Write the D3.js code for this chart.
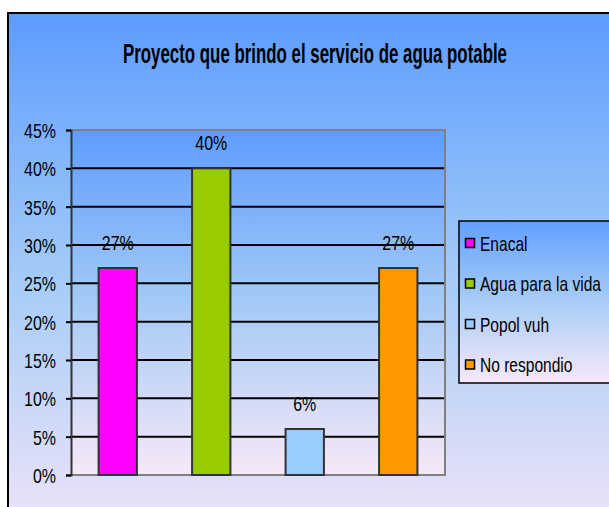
<!DOCTYPE html>
<html>
<head>
<meta charset="utf-8">
<script src="https://cdn.jsdelivr.net/npm/d3@7"></script>
<style>
  body { margin: 0; background: #fff; }
  text { font-family: "Liberation Sans", Arial, sans-serif; fill: #000; }
</style>
</head>
<body>
<div class="canvas"></div>
<script>
// data
var categories = ["Enacal", "Agua para la vida", "Popol vuh", "No respondio"];
var values = [0.27, 0.40, 0.06, 0.27];
var colors = ["#FF00FF", "#99CC00", "#99CCFF", "#FF9900"];
var tickValues = [0, 0.05, 0.10, 0.15, 0.20, 0.25, 0.30, 0.35, 0.40, 0.45];
var title = "Proyecto que brindo el servicio de agua potable";

var W = 609, H = 507;
var svg = d3.select(".canvas").append("svg")
  .attr("width", W)
  .attr("height", H);

var defs = svg.append("defs");

function grad(id, stops) {
  var g = defs.append("linearGradient")
    .attr("id", id)
    .attr("x1", 0).attr("y1", 0)
    .attr("x2", 0).attr("y2", 1);
  stops.forEach(function(s){
    g.append("stop").attr("offset", s[0]).attr("stop-color", s[1]);
  });
}
grad("bgGrad", [[0, "#5C9CFF"], [0.5, "#A6CCF7"], [1, "#F6E6F8"]]);
grad("plotGrad", [[0, "#5E9CFF"], [0.5, "#A4CAF6"], [1, "#F7E8F8"]]);
grad("legGrad", [[0, "#62A0FF"], [0.5, "#A8CDF7"], [1, "#F7E8F8"]]);

// squeeze text horizontally (the original font is a narrow one)
function narrow(sel, k) {
  sel.each(function(){
    var len = this.getComputedTextLength();
    d3.select(this)
      .attr("textLength", len * (k || 0.76))
      .attr("lengthAdjust", "spacingAndGlyphs");
  });
}

// CHART BACKGROUND

svg.append("rect")
  .attr("x", 8)
  .attr("y", 13)
  .attr("width", 640)
  .attr("height", 540)
  .attr("fill", "url(#bgGrad)")
  .attr("stroke", "#000")
  .attr("stroke-width", 2);

// TITLE

svg.append("text")
  .attr("x", 315)
  .attr("y", 63)
  .attr("text-anchor", "middle")
  .style("font-size", "27px")
  .style("font-weight", "bold")
  .attr("textLength", 384)
  .attr("lengthAdjust", "spacingAndGlyphs")
  .text(title);

// PLOT AREA

var plotL = 71, plotR = 445, plotT = 130, plotB = 475;

var y = d3.scaleLinear()
  .domain([0, 0.45])
  .range([plotB, plotT]);

var x = d3.scaleBand()
  .domain(categories)
  .range([plotL, plotR])
  .paddingInner(0.59)
  .paddingOuter(0.295);

svg.append("rect")
  .attr("x", plotL)
  .attr("y", plotT)
  .attr("width", plotR - plotL)
  .attr("height", plotB - plotT)
  .attr("fill", "url(#plotGrad)");

// gridlines
svg.append("g")
  .selectAll("line")
  .data(tickValues.filter(function(t){ return t > 0 && t < 0.45; }))
  .enter()
  .append("line")
  .attr("x1", plotL)
  .attr("x2", plotR)
  .attr("y1", function(d){ return y(d); })
  .attr("y2", function(d){ return y(d); })
  .attr("stroke", "#000")
  .attr("stroke-width", 2);

// plot border top / right / bottom (grey)
svg.append("path")
  .attr("d", "M" + plotL + "," + plotT + "H" + plotR + "V" + plotB + "H" + plotL)
  .attr("fill", "none")
  .attr("stroke", "#808080")
  .attr("stroke-width", 2);

// y axis
var yAxis = d3.axisLeft(y)
  .tickValues(tickValues)
  .tickSize(5)
  .tickPadding(10)
  .tickFormat(d3.format(".0%"));

var ga = svg.append("g")
  .attr("transform", "translate(" + plotL + ",0)")
  .call(yAxis);

ga.select(".domain").attr("stroke", "#333").attr("stroke-width", 2);
ga.selectAll(".tick line").attr("stroke", "#000").attr("stroke-width", 2);
ga.selectAll(".tick text")
  .style("font-size", "21px")
  .attr("fill", "#000")
  .attr("dy", "0.36em");
ga.attr("font-family", null).attr("font-size", null);
narrow(ga.selectAll(".tick text"));

// BARS

svg.append("g")
  .selectAll("rect")
  .data(values)
  .enter()
  .append("rect")
  .attr("x", function(d, i){ return x(categories[i]); })
  .attr("y", function(d){ return y(d); })
  .attr("width", x.bandwidth())
  .attr("height", function(d){ return plotB - y(d); })
  .attr("fill", function(d, i){ return colors[i]; })
  .attr("stroke", "#333")
  .attr("stroke-width", 2);

// value labels
var labels = svg.append("g")
  .selectAll("text")
  .data(values)
  .enter()
  .append("text")
  .attr("x", function(d, i){ return x(categories[i]) + x.bandwidth() / 2; })
  .attr("y", function(d){ return y(d) - 18; })
  .attr("text-anchor", "middle")
  .style("font-size", "21px")
  .text(function(d){ return d3.format(".0%")(d); });
narrow(labels);

// LEGEND

var leg = svg.append("g");

leg.append("rect")
  .attr("x", 459)
  .attr("y", 221)
  .attr("width", 200)
  .attr("height", 162)
  .attr("fill", "url(#legGrad)")
  .attr("stroke", "#000")
  .attr("stroke-width", 1.5);

var items = leg.selectAll(".item")
  .data(categories)
  .enter()
  .append("g")
  .attr("transform", function(d, i){ return "translate(465," + (243 + i * 40.5) + ")"; });

items.append("rect")
  .attr("x", 0.5)
  .attr("y", -4.5)
  .attr("width", 9)
  .attr("height", 9)
  .attr("fill", function(d, i){ return colors[i]; })
  .attr("stroke", "#000")
  .attr("stroke-width", 1.5);

var legText = items.append("text")
  .attr("x", 15)
  .attr("y", 7.5)
  .style("font-size", "21px")
  .text(function(d){ return d; });
narrow(legText, 0.74);
</script>
</body>
</html>
